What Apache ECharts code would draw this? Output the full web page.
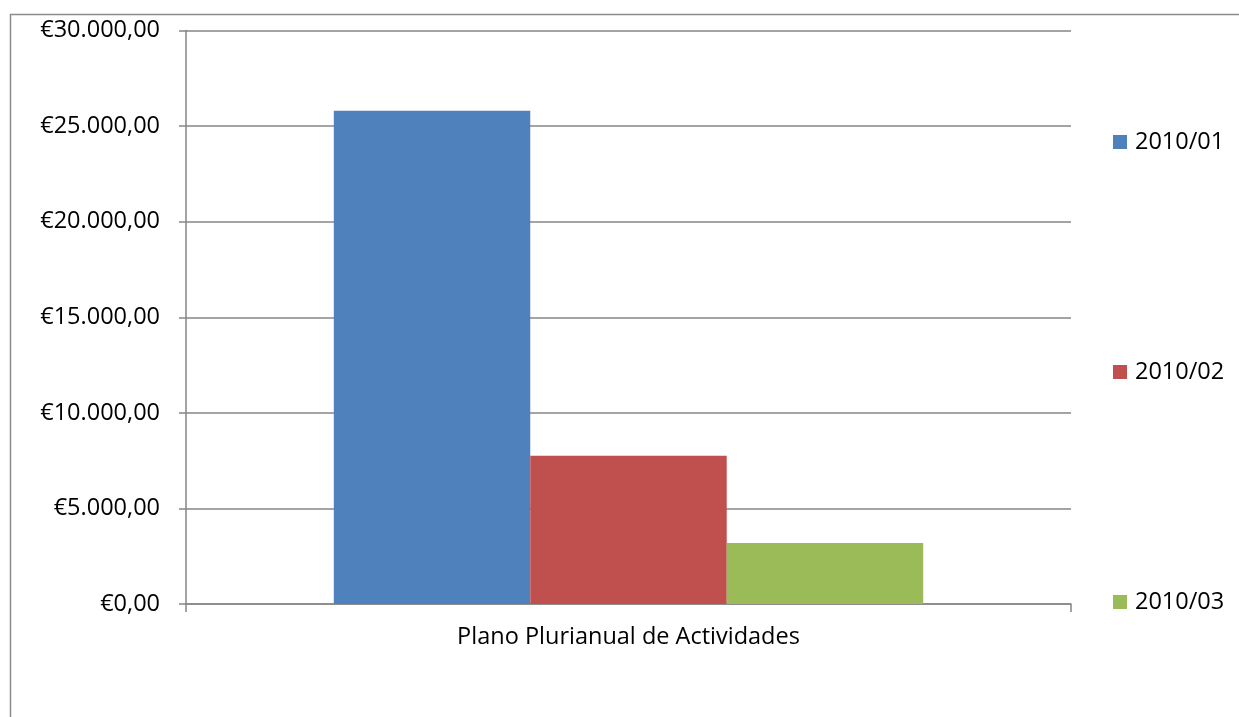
<!DOCTYPE html>
<html>
<head>
<meta charset="utf-8">
<script src="https://cdn.jsdelivr.net/npm/echarts@6/dist/echarts.min.js"></script>
<style>
html,body{margin:0;padding:0;background:#fff;}
#c{width:1239px;height:717px;}
</style>
</head>
<body>
<div id="c"></div>
<script>
const categories = ['Plano Plurianual de Actividades'];
const seriesNames = ['2010/01', '2010/02', '2010/03'];
const values2010_01 = [25800];
const values2010_02 = [7750];
const values2010_03 = [3190];
const seriesColors = ['#4f81bd', '#c0504d', '#9bbb59'];
const yTicks = [0, 5000, 10000, 15000, 20000, 25000, 30000];

const seriesValues = [values2010_01, values2010_02, values2010_03];
const FONT = 'Open Sans';
const FS = 23.5;

function fmtEuro(v) {
  const s = Math.round(v).toString().replace(/\B(?=(\d{3})+(?!\d))/g, '.');
  return '€' + s + ',00';
}

const chart = echarts.init(document.getElementById('c'));
chart.setOption({
  animation: false,
  backgroundColor: '#fff',
  graphic: [{
    type: 'rect',
    left: 8, top: 12,
    shape: { width: 1260, height: 740 },
    style: { fill: 'none', stroke: '#8c8c8c', lineWidth: 1.5 },
    silent: true, z: -1
  }],
  grid: { left: 186, right: 168, top: 30.5, bottom: 113, containLabel: false },
  legend: {
    orient: 'vertical',
    left: 1113,
    top: 130,
    padding: 0,
    itemWidth: 14,
    itemHeight: 14,
    itemGap: 206,
    icon: 'rect',
    textStyle: { fontFamily: FONT, fontSize: FS, color: '#000', padding: [0, 0, 0, 3] },
    data: seriesNames
  },
  xAxis: {
    type: 'category',
    data: categories,
    axisLine: { lineStyle: { color: '#868686', width: 1.5 } },
    axisTick: { show: true, length: 8, lineStyle: { color: '#868686', width: 1.5 } },
    axisLabel: { fontFamily: FONT, fontSize: FS, color: '#000', margin: 21 },
    splitLine: { show: false }
  },
  yAxis: {
    type: 'value',
    min: yTicks[0],
    max: yTicks[yTicks.length - 1],
    interval: yTicks[1] - yTicks[0],
    axisLine: { show: true, lineStyle: { color: '#868686', width: 1.5 } },
    axisTick: { show: true, length: 7, lineStyle: { color: '#868686', width: 1.5 } },
    axisLabel: { fontFamily: FONT, fontSize: FS, color: '#000', margin: 26, formatter: fmtEuro },
    splitLine: { show: true, lineStyle: { color: '#868686', width: 1.5 } }
  },
  series: seriesNames.map((n, i) => ({
    name: n,
    type: 'bar',
    data: seriesValues[i],
    itemStyle: { color: seriesColors[i] },
    barGap: '0%',
    barCategoryGap: '33.4%'
  }))
});
</script>
</body>
</html>
